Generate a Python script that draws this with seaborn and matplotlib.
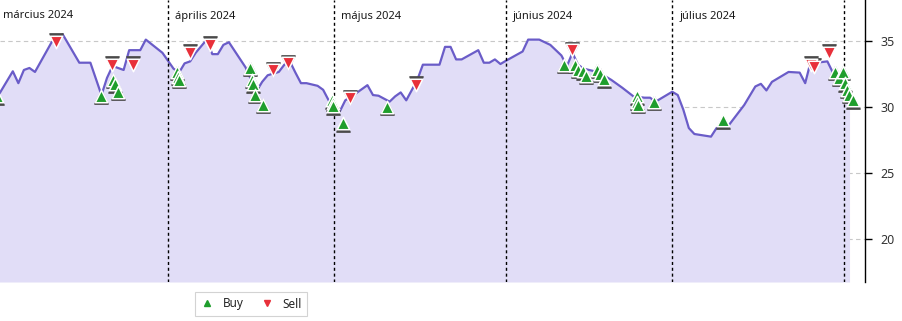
import matplotlib
matplotlib.use("Agg")
import matplotlib.pyplot as plt
from matplotlib.transforms import ScaledTranslation
from matplotlib.lines import Line2D
import seaborn as sns
import pandas as pd

# ---------------- data ----------------
line_dates = [
    "2024-03-01", "2024-03-04", "2024-03-05", "2024-03-06", "2024-03-07", "2024-03-08",
    "2024-03-11", "2024-03-12", "2024-03-13", "2024-03-16", "2024-03-18", "2024-03-20",
    "2024-03-21", "2024-03-22", "2024-03-24", "2024-03-25", "2024-03-27", "2024-03-28",
    "2024-03-31", "2024-04-02", "2024-04-03", "2024-04-04", "2024-04-05", "2024-04-06",
    "2024-04-08", "2024-04-09", "2024-04-10", "2024-04-11", "2024-04-12", "2024-04-15",
    "2024-04-16", "2024-04-17", "2024-04-18", "2024-04-19", "2024-04-21", "2024-04-22",
    "2024-04-23", "2024-04-24", "2024-04-25", "2024-04-26", "2024-04-28", "2024-04-29",
    "2024-04-30", "2024-05-01", "2024-05-02", "2024-05-03", "2024-05-05", "2024-05-07",
    "2024-05-08", "2024-05-09", "2024-05-11", "2024-05-12", "2024-05-13", "2024-05-14",
    "2024-05-16", "2024-05-17", "2024-05-20", "2024-05-21", "2024-05-22", "2024-05-23",
    "2024-05-24", "2024-05-27", "2024-05-28", "2024-05-29", "2024-05-30", "2024-05-31",
    "2024-06-01", "2024-06-04", "2024-06-05", "2024-06-07", "2024-06-09", "2024-06-11",
    "2024-06-12", "2024-06-13", "2024-06-14", "2024-06-15", "2024-06-17", "2024-06-19",
    "2024-06-20", "2024-06-22", "2024-06-24", "2024-06-26", "2024-06-27", "2024-06-28",
    "2024-07-01", "2024-07-02", "2024-07-03", "2024-07-04", "2024-07-05", "2024-07-08",
    "2024-07-09", "2024-07-10", "2024-07-11", "2024-07-14", "2024-07-16", "2024-07-17",
    "2024-07-18", "2024-07-19", "2024-07-22", "2024-07-24", "2024-07-25", "2024-07-26",
    "2024-07-27", "2024-07-29", "2024-07-30", "2024-08-01", "2024-08-02",
]
line_values = [
    30.6, 32.7, 31.8, 32.8, 32.95, 32.65,
    34.9, 35.2, 35.5, 33.35, 33.35, 30.9,
    32.2, 33.1, 32.8, 34.3, 34.3, 35.1,
    34.1, 32.9, 32.6, 33.3, 33.45, 34.1,
    35.1, 34.0, 34.0, 34.7, 34.9, 33.0,
    32.05, 31.2, 31.9, 32.4, 32.65, 33.2,
    33.45, 32.6, 31.8, 31.8, 31.6, 31.3,
    30.5, 30.0, 29.65, 30.5, 31.05, 31.65,
    30.9, 30.85, 30.4, 30.8, 31.1, 30.5,
    32.05, 33.2, 33.2, 34.55, 34.55, 33.6,
    33.6, 34.3, 33.35, 33.35, 33.6, 33.25,
    33.5, 34.2, 35.1, 35.1, 34.7, 33.9,
    33.1, 34.1, 33.2, 32.9, 32.7, 32.3,
    32.05, 31.45, 30.8, 30.7, 30.7, 30.4,
    31.15, 30.9, 29.8, 28.4, 27.95, 27.75,
    28.4, 28.5, 28.5, 30.15, 31.55, 31.75,
    31.25, 31.9, 32.65, 32.6, 31.8, 33.45,
    33.35, 33.45, 32.6, 31.45, 30.55,
]

buy_dates = [
    "2024-03-01 03:00", "2024-03-19 21:00", "2024-03-22 02:00", "2024-03-22 11:00",
    "2024-03-22 23:00", "2024-04-02 15:00", "2024-04-02 19:00", "2024-04-02 22:00",
    "2024-04-15 19:00", "2024-04-16 03:00", "2024-04-16 07:00", "2024-04-16 17:00",
    "2024-04-18 02:00", "2024-04-30 13:00", "2024-04-30 18:00", "2024-04-30 20:00",
    "2024-05-02 13:00", "2024-05-10 13:00", "2024-06-11 12:00", "2024-06-13 11:00",
    "2024-06-14 00:00", "2024-06-14 22:00", "2024-06-15 11:00", "2024-06-17 11:00",
    "2024-06-18 00:00", "2024-06-18 17:00", "2024-06-24 14:00", "2024-06-24 16:00",
    "2024-06-24 18:00", "2024-06-27 17:00", "2024-07-10 06:00", "2024-07-30 09:00",
    "2024-07-31 02:00", "2024-07-31 20:00", "2024-08-01 05:00", "2024-08-01 14:00",
    "2024-08-01 22:00", "2024-08-02 14:00",
]
buy_values = [
    30.8, 30.85, 32.05, 31.7,
    31.15, 32.65, 32.3, 32.05,
    32.95, 32.05, 31.7, 30.9,
    30.15, 30.5, 30.3, 30.05,
    28.77, 30.0, 33.2, 33.2,
    32.8, 32.7, 32.35, 32.8,
    32.5, 32.1, 30.8, 30.4,
    30.15, 30.4, 29.0, 32.65,
    32.2, 32.65, 31.8, 31.3,
    30.9, 30.5,
]

sell_dates = [
    "2024-03-11 19:00", "2024-03-21 20:00", "2024-03-25 17:00", "2024-04-05 00:00",
    "2024-04-08 14:00", "2024-04-19 22:00", "2024-04-22 17:00", "2024-05-03 21:00",
    "2024-05-15 19:00", "2024-06-12 21:00", "2024-07-26 02:00", "2024-07-26 12:00",
    "2024-07-29 07:00",
]
sell_values = [
    34.95, 33.2, 33.2, 34.1,
    34.7, 32.8, 33.3, 30.66,
    31.67, 34.3, 33.2, 33.05,
    34.1,
]

month_starts = ["2024-03-01", "2024-04-01", "2024-05-01", "2024-06-01",
                "2024-07-01", "2024-08-01"]
month_labels = ["március 2024", "április 2024", "május 2024", "június 2024",
                "július 2024", ""]
y_ticks = [20, 25, 30, 35]
legend_labels = ["Buy", "Sell"]

# ---------------- style ----------------
sns.set_style("white")
plt.rcParams["font.family"] = ["Noto Sans", "DejaVu Sans"]

LINE_COLOR = "#6a5cc8"
FILL_COLOR = "#e1ddf7"
BUY_COLOR = "#1f9e2c"
SELL_COLOR = "#e8303a"
SHADOW_COLOR = "#4a4a4a"

df_line = pd.DataFrame({"date": pd.to_datetime(line_dates), "value": line_values})
df_buy = pd.DataFrame({"date": pd.to_datetime(buy_dates), "value": buy_values})
df_sell = pd.DataFrame({"date": pd.to_datetime(sell_dates), "value": sell_values})

fig = plt.figure(figsize=(9.03, 3.21), dpi=100)
ax = fig.add_axes([0, 1 - 282 / 321, 865 / 903, 282 / 321])

y_bottom, y_top = 16.74, 38.1
ax.set_ylim(y_bottom, y_top)
ax.set_xlim(pd.Timestamp("2024-03-01 16:30"), pd.Timestamp("2024-08-04 19:00"))

# horizontal grid
for t in y_ticks:
    ax.axhline(t, color="#c8c8c8", lw=0.8, ls=(0, (4, 3)), zorder=1)

# area + line
ax.fill_between(df_line["date"], df_line["value"], y_bottom, color=FILL_COLOR,
                lw=0, zorder=2)
sns.lineplot(data=df_line, x="date", y="value", color=LINE_COLOR, lw=1.6,
             ax=ax, zorder=3)

# month separators and labels
for ms, lab in zip(month_starts, month_labels):
    d = pd.Timestamp(ms)
    ax.axvline(d, color="black", lw=1.0, ls=(0, (2.2, 2.0)), zorder=4)
    if lab:
        ax.annotate(lab, xy=(d, 1), xycoords=("data", "axes fraction"),
                    xytext=(7, -16), textcoords="offset pixels",
                    ha="left", va="center", fontsize=8, color="#1a1a1a",
                    annotation_clip=False, zorder=6)


def markers(df, marker, color, dy):
    sns.scatterplot(data=df, x="date", y="value", marker=marker, s=92,
                    color=SHADOW_COLOR, edgecolor=SHADOW_COLOR, linewidth=1.0,
                    ax=ax, zorder=5, legend=False)
    coll = ax.collections[-1]
    coll.set_offset_transform(ax.transData + ScaledTranslation(0, dy / 100,
                                                               fig.dpi_scale_trans))
    sns.scatterplot(data=df, x="date", y="value", marker=marker, s=80,
                    color=color, edgecolor="white", linewidth=1.1,
                    ax=ax, zorder=5, legend=False)


markers(df_buy, "^", BUY_COLOR, -1.4)
markers(df_sell, "v", SELL_COLOR, 1.4)

# axes styling
ax.set_xlabel("")
ax.set_ylabel("")
ax.set_xticks([])
ax.yaxis.tick_right()
ax.set_yticks(y_ticks)
ax.tick_params(axis="y", direction="out", length=5, width=1, color="black",
               labelsize=9, labelcolor="#333333", pad=6, right=True, left=False)
for side in ["left", "top", "bottom"]:
    ax.spines[side].set_visible(False)
ax.spines["right"].set_color("black")
ax.spines["right"].set_linewidth(1.0)
ax.set_facecolor("white")

# legend
handles = [
    Line2D([], [], marker="^", ls="", color=BUY_COLOR, markersize=5),
    Line2D([], [], marker="v", ls="", color=SELL_COLOR, markersize=5),
]
leg = fig.legend(handles, legend_labels, loc="center", bbox_to_anchor=(251 / 903, 1 - 304 / 321),
                 ncol=2, frameon=True, fancybox=False, fontsize=8.5,
                 handlelength=1.2, handletextpad=0.7, columnspacing=1.4,
                 borderpad=0.45, edgecolor="#c8c8c8")
leg.get_frame().set_linewidth(0.8)

fig.savefig("out.png", dpi=100)
